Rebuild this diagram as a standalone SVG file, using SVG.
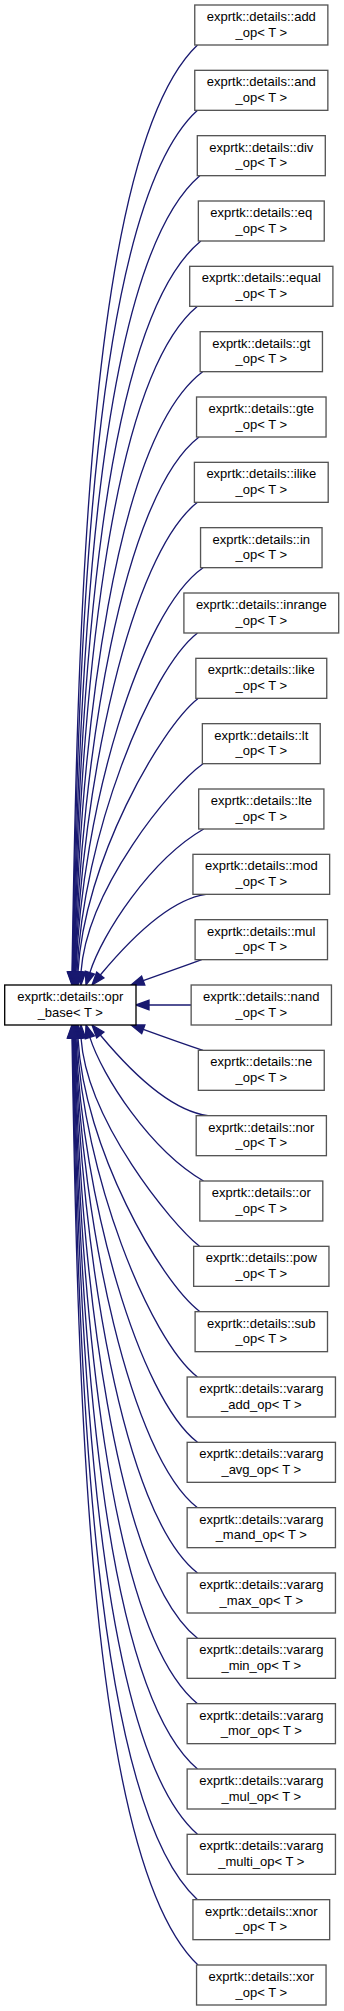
<svg xmlns="http://www.w3.org/2000/svg" width="344" height="2011" viewBox="0 0 344 2011">
<style>
.node rect{fill:#fff;stroke:#555;stroke-width:1.33}
#base rect{stroke:#000}
text{font-family:"Liberation Sans",Arial,Helvetica,sans-serif;font-size:13px;text-anchor:middle;fill:#000}
.edge path{fill:none;stroke:#191970;stroke-width:1.33}
.edge polygon{fill:#191970;stroke:#191970;stroke-width:1.33}
</style>
<rect width="344" height="2011" fill="#fff"/>
<g id="edges">
<g class="edge" id="e_add"><path d="M72,972 C78,601.2 90,147 197.5,45"/><polygon points="72,985 67.3,972 76.7,972"/></g>
<g class="edge" id="e_and"><path d="M72.5,972 C78.5,627.3 93.4,205.1 197.5,110.33"/><polygon points="72.5,985 67.8,972 77.2,972"/></g>
<g class="edge" id="e_div"><path d="M73,972 C79,653.5 97.6,263.3 199.8,175.67"/><polygon points="73,985 68.3,972 77.7,972"/></g>
<g class="edge" id="e_eq"><path d="M73.5,972 C79.5,679.6 102.6,321.4 200.85,241"/><polygon points="73.5,985 68.8,972 78.2,972"/></g>
<g class="edge" id="e_equal"><path d="M74,972 C80,705.7 108.4,379.5 197.5,306.33"/><polygon points="74,985 69.3,972 78.7,972"/></g>
<g class="edge" id="e_gt"><path d="M74.5,972 C80.5,731.9 115,437.7 202.65,371.67"/><polygon points="74.5,985 69.8,972 79.2,972"/></g>
<g class="edge" id="e_gte"><path d="M75,972 C81,758 122.4,495.9 199.05,437"/><polygon points="75,985 70.3,972 79.7,972"/></g>
<g class="edge" id="e_ilike"><path d="M75.5,972 C81.5,784.1 130.6,554 197.5,502.33"/><polygon points="75.5,985 70.8,972 80.2,972"/></g>
<g class="edge" id="e_in"><path d="M76,972 C82,810.3 139.6,612.1 203.05,567.67"/><polygon points="76,985 71.3,972 80.7,972"/></g>
<g class="edge" id="e_inrange"><path d="M77,972 C83,836.4 149.4,670.3 197.5,633"/><polygon points="77,985 72.3,972 81.7,972"/></g>
<g class="edge" id="e_like"><path d="M78,972 C84,862.5 160,728.4 198.35,698.33"/><polygon points="78,985 73.3,972 82.7,972"/></g>
<g class="edge" id="e_lt"><path d="M81,972 C87,889 171,786.5 203,763.67"/><polygon points="81,985 76.3,972 85.7,972"/></g>
<g class="edge" id="e_lte"><path d="M89.9,972.6 C101.9,934.4 150,860 203.7,829"/><polygon points="86,985 85.4,971.2 94.4,974"/></g>
<g class="edge" id="e_mod"><path d="M100.3,975 C119.5,951.9 165,900 206,894.33"/><polygon points="92,985 96.7,972 103.9,978"/></g>
<g class="edge" id="e_mul"><path d="M143.2,980.6 C162,973.9 182,966.7 201.7,959.67"/><polygon points="131,985 141.6,976.2 144.8,985"/></g>
<g class="edge" id="e_nand"><path d="M149,1005 L191.15,1005"/><polygon points="136,1005 149,1000.3 149,1009.7"/></g>
<g class="edge" id="e_ne"><path d="M143.3,1029.3 C162,1036.1 182,1043.3 203,1050.33"/><polygon points="131,1025 144.9,1024.9 141.7,1033.7"/></g>
<g class="edge" id="e_nor"><path d="M100.3,1035 C119.5,1058.1 165,1110 208,1115.67"/><polygon points="92,1025 103.9,1032 96.7,1038"/></g>
<g class="edge" id="e_or"><path d="M89.9,1037.4 C101.9,1075.6 150,1150 203.5,1181"/><polygon points="86,1025 94.4,1036 85.4,1038.8"/></g>
<g class="edge" id="e_pow"><path d="M81,1038 C87,1121 171,1223.5 199.5,1246.33"/><polygon points="81,1025 76.3,1038 85.7,1038"/></g>
<g class="edge" id="e_sub"><path d="M78,1038 C84,1147.5 160,1281.6 200,1311.67"/><polygon points="78,1025 73.3,1038 82.7,1038"/></g>
<g class="edge" id="e_vararg_add"><path d="M77,1038 C83,1173.6 149.4,1339.7 197.5,1377"/><polygon points="77,1025 72.3,1038 81.7,1038"/></g>
<g class="edge" id="e_vararg_avg"><path d="M76,1038 C82,1199.7 139.6,1397.9 197.5,1442.33"/><polygon points="76,1025 71.3,1038 80.7,1038"/></g>
<g class="edge" id="e_vararg_mand"><path d="M75.5,1038 C81.5,1225.9 130.6,1456 197.5,1507.67"/><polygon points="75.5,1025 70.8,1038 80.2,1038"/></g>
<g class="edge" id="e_vararg_max"><path d="M75,1038 C81,1252 122.4,1514.1 197.5,1573"/><polygon points="75,1025 70.3,1038 79.7,1038"/></g>
<g class="edge" id="e_vararg_min"><path d="M74.5,1038 C80.5,1278.1 115,1572.3 197.5,1638.33"/><polygon points="74.5,1025 69.8,1038 79.2,1038"/></g>
<g class="edge" id="e_vararg_mor"><path d="M74,1038 C80,1304.3 108.4,1630.5 197.5,1703.67"/><polygon points="74,1025 69.3,1038 78.7,1038"/></g>
<g class="edge" id="e_vararg_mul"><path d="M73.5,1038 C79.5,1330.4 102.6,1688.6 197.5,1769"/><polygon points="73.5,1025 68.8,1038 78.2,1038"/></g>
<g class="edge" id="e_vararg_multi"><path d="M73,1038 C79,1356.5 97.6,1746.7 197.5,1834.33"/><polygon points="73,1025 68.3,1038 77.7,1038"/></g>
<g class="edge" id="e_xnor"><path d="M72.5,1038 C78.5,1382.7 93.4,1804.9 197.5,1899.67"/><polygon points="72.5,1025 67.8,1038 77.2,1038"/></g>
<g class="edge" id="e_xor"><path d="M72,1038 C78,1408.8 90,1863 198,1965"/><polygon points="72,1025 67.3,1038 76.7,1038"/></g>
</g>
<g class="node" id="base"><rect x="4.7" y="985" width="131.3" height="40"/><text x="70.3" y="1001">exprtk::details::opr</text><text x="70.3" y="1016.5">_base&lt; T &gt;</text></g>
<g class="node" id="n_add"><rect x="194.75" y="5" width="133.1" height="40"/><text x="261.3" y="21">exprtk::details::add</text><text x="261.3" y="36.5">_op&lt; T &gt;</text></g>
<g class="node" id="n_and"><rect x="194.75" y="70.33" width="133.1" height="40"/><text x="261.3" y="86.33">exprtk::details::and</text><text x="261.3" y="101.83">_op&lt; T &gt;</text></g>
<g class="node" id="n_div"><rect x="197.3" y="135.67" width="128" height="40"/><text x="261.3" y="151.67">exprtk::details::div</text><text x="261.3" y="167.17">_op&lt; T &gt;</text></g>
<g class="node" id="n_eq"><rect x="198.35" y="201" width="125.9" height="40"/><text x="261.3" y="217">exprtk::details::eq</text><text x="261.3" y="232.5">_op&lt; T &gt;</text></g>
<g class="node" id="n_equal"><rect x="189.7" y="266.33" width="143.2" height="40"/><text x="261.3" y="282.33">exprtk::details::equal</text><text x="261.3" y="297.83">_op&lt; T &gt;</text></g>
<g class="node" id="n_gt"><rect x="200.15" y="331.67" width="122.3" height="40"/><text x="261.3" y="347.67">exprtk::details::gt</text><text x="261.3" y="363.17">_op&lt; T &gt;</text></g>
<g class="node" id="n_gte"><rect x="196.55" y="397" width="129.5" height="40"/><text x="261.3" y="413">exprtk::details::gte</text><text x="261.3" y="428.5">_op&lt; T &gt;</text></g>
<g class="node" id="n_ilike"><rect x="194.4" y="462.33" width="133.8" height="40"/><text x="261.3" y="478.33">exprtk::details::ilike</text><text x="261.3" y="493.83">_op&lt; T &gt;</text></g>
<g class="node" id="n_in"><rect x="200.55" y="527.67" width="121.5" height="40"/><text x="261.3" y="543.67">exprtk::details::in</text><text x="261.3" y="559.17">_op&lt; T &gt;</text></g>
<g class="node" id="n_inrange"><rect x="183.9" y="593" width="154.8" height="40"/><text x="261.3" y="609">exprtk::details::inrange</text><text x="261.3" y="624.5">_op&lt; T &gt;</text></g>
<g class="node" id="n_like"><rect x="195.85" y="658.33" width="130.9" height="40"/><text x="261.3" y="674.33">exprtk::details::like</text><text x="261.3" y="689.83">_op&lt; T &gt;</text></g>
<g class="node" id="n_lt"><rect x="202.35" y="723.67" width="117.9" height="40"/><text x="261.3" y="739.67">exprtk::details::lt</text><text x="261.3" y="755.17">_op&lt; T &gt;</text></g>
<g class="node" id="n_lte"><rect x="198.7" y="789" width="125.2" height="40"/><text x="261.3" y="805">exprtk::details::lte</text><text x="261.3" y="820.5">_op&lt; T &gt;</text></g>
<g class="node" id="n_mod"><rect x="192.95" y="854.33" width="136.7" height="40"/><text x="261.3" y="870.33">exprtk::details::mod</text><text x="261.3" y="885.83">_op&lt; T &gt;</text></g>
<g class="node" id="n_mul"><rect x="195.1" y="919.67" width="132.4" height="40"/><text x="261.3" y="935.67">exprtk::details::mul</text><text x="261.3" y="951.17">_op&lt; T &gt;</text></g>
<g class="node" id="n_nand"><rect x="191.15" y="985" width="140.3" height="40"/><text x="261.3" y="1001">exprtk::details::nand</text><text x="261.3" y="1016.5">_op&lt; T &gt;</text></g>
<g class="node" id="n_ne"><rect x="198.35" y="1050.33" width="125.9" height="40"/><text x="261.3" y="1066.33">exprtk::details::ne</text><text x="261.3" y="1081.83">_op&lt; T &gt;</text></g>
<g class="node" id="n_nor"><rect x="196.2" y="1115.67" width="130.2" height="40"/><text x="261.3" y="1131.67">exprtk::details::nor</text><text x="261.3" y="1147.17">_op&lt; T &gt;</text></g>
<g class="node" id="n_or"><rect x="199.8" y="1181" width="123" height="40"/><text x="261.3" y="1197">exprtk::details::or</text><text x="261.3" y="1212.5">_op&lt; T &gt;</text></g>
<g class="node" id="n_pow"><rect x="193.65" y="1246.33" width="135.3" height="40"/><text x="261.3" y="1262.33">exprtk::details::pow</text><text x="261.3" y="1277.83">_op&lt; T &gt;</text></g>
<g class="node" id="n_sub"><rect x="195.1" y="1311.67" width="132.4" height="40"/><text x="261.3" y="1327.67">exprtk::details::sub</text><text x="261.3" y="1343.17">_op&lt; T &gt;</text></g>
<g class="node" id="n_vararg_add"><rect x="187.15" y="1377" width="148.3" height="40"/><text x="261.3" y="1393">exprtk::details::vararg</text><text x="261.3" y="1408.5">_add_op&lt; T &gt;</text></g>
<g class="node" id="n_vararg_avg"><rect x="187.15" y="1442.33" width="148.3" height="40"/><text x="261.3" y="1458.33">exprtk::details::vararg</text><text x="261.3" y="1473.83">_avg_op&lt; T &gt;</text></g>
<g class="node" id="n_vararg_mand"><rect x="187.15" y="1507.67" width="148.3" height="40"/><text x="261.3" y="1523.67">exprtk::details::vararg</text><text x="261.3" y="1539.17">_mand_op&lt; T &gt;</text></g>
<g class="node" id="n_vararg_max"><rect x="187.15" y="1573" width="148.3" height="40"/><text x="261.3" y="1589">exprtk::details::vararg</text><text x="261.3" y="1604.5">_max_op&lt; T &gt;</text></g>
<g class="node" id="n_vararg_min"><rect x="187.15" y="1638.33" width="148.3" height="40"/><text x="261.3" y="1654.33">exprtk::details::vararg</text><text x="261.3" y="1669.83">_min_op&lt; T &gt;</text></g>
<g class="node" id="n_vararg_mor"><rect x="187.15" y="1703.67" width="148.3" height="40"/><text x="261.3" y="1719.67">exprtk::details::vararg</text><text x="261.3" y="1735.17">_mor_op&lt; T &gt;</text></g>
<g class="node" id="n_vararg_mul"><rect x="187.15" y="1769" width="148.3" height="40"/><text x="261.3" y="1785">exprtk::details::vararg</text><text x="261.3" y="1800.5">_mul_op&lt; T &gt;</text></g>
<g class="node" id="n_vararg_multi"><rect x="187.15" y="1834.33" width="148.3" height="40"/><text x="261.3" y="1850.33">exprtk::details::vararg</text><text x="261.3" y="1865.83">_multi_op&lt; T &gt;</text></g>
<g class="node" id="n_xnor"><rect x="192.95" y="1899.67" width="136.7" height="40"/><text x="261.3" y="1915.67">exprtk::details::xnor</text><text x="261.3" y="1931.17">_op&lt; T &gt;</text></g>
<g class="node" id="n_xor"><rect x="196.55" y="1965" width="129.5" height="40"/><text x="261.3" y="1981">exprtk::details::xor</text><text x="261.3" y="1996.5">_op&lt; T &gt;</text></g>
</svg>
